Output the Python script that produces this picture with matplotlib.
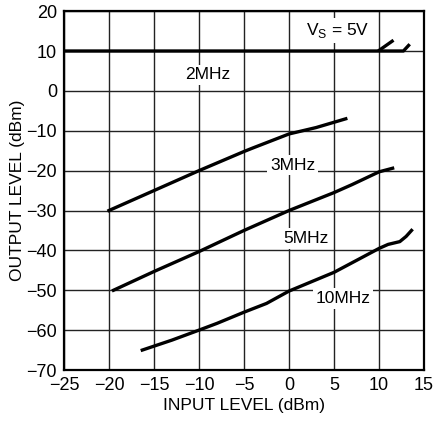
import matplotlib
matplotlib.use("Agg")
import matplotlib.pyplot as plt
from matplotlib import font_manager

# pick a narrow sans if available
names = {f.name for f in font_manager.fontManager.ttflist}
family = "Liberation Sans Narrow" if "Liberation Sans Narrow" in names else "Liberation Sans"
plt.rcParams["font.family"] = [family, "DejaVu Sans"]

# 2MHz curve (main + branch near limit)
x_2mhz = [-25, 0, 9.9, 12.7, 13.4]
y_2mhz = [10, 10, 10, 10, 11.7]
x_2mhz_b = [9.9, 11.6]
y_2mhz_b = [10, 12.7]

x_3mhz = [-20, -15, -10, -5, -4, 0, 3, 6.3]
y_3mhz = [-30, -25, -20, -15.2, -14.3, -10.8, -9.2, -7.0]

x_5mhz = [-19.5, -15, -10, -5, 0, 5, 7, 10, 11.5]
y_5mhz = [-50, -45.3, -40.3, -35, -30, -25.5, -23.5, -20.3, -19.4]

x_10mhz = [-16.3, -13, -10, -8, -5, -2.5, 0, 5, 10, 11, 12.3, 13, 13.6]
y_10mhz = [-65, -62.5, -60, -58.3, -55.5, -53.3, -50.2, -45.5, -39.5, -38.5, -37.8, -36.5, -35]

x_ticks = [-25, -20, -15, -10, -5, 0, 5, 10, 15]
y_ticks = [20, 10, 0, -10, -20, -30, -40, -50, -60, -70]

fig = plt.figure(figsize=(4.35, 4.28), dpi=100)
ax = fig.add_axes([0.147, 0.1355, 0.828, 0.8385])

lw = 2.4
ax.plot(x_2mhz, y_2mhz, color="black", lw=lw, solid_capstyle="butt", zorder=3)
ax.plot(x_2mhz_b, y_2mhz_b, color="black", lw=lw, solid_capstyle="butt", zorder=3)
ax.plot(x_3mhz, y_3mhz, color="black", lw=lw, zorder=3)
ax.plot(x_5mhz, y_5mhz, color="black", lw=lw, zorder=3)
ax.plot(x_10mhz, y_10mhz, color="black", lw=lw, zorder=3)

ax.set_xlim(-25, 15)
ax.set_ylim(-70, 20)
ax.set_xticks(x_ticks)
ax.set_yticks(y_ticks)
ax.grid(True, color="#222222", lw=1.0)
ax.tick_params(length=0, labelsize=13, pad=5)
for s in ax.spines.values():
    s.set_linewidth(1.6)

ax.set_xlabel("INPUT LEVEL (dBm)", fontsize=12.5, labelpad=3)
ax.set_ylabel("OUTPUT LEVEL (dBm)", fontsize=12.5, labelpad=1)

box = dict(facecolor="white", edgecolor="none", pad=2)
ax.text(-9.0, 4.0, "2MHz", fontsize=12.5, ha="center", va="center", bbox=box, zorder=4)
ax.text(0.4, -18.6, "3MHz", fontsize=12.5, ha="center", va="center", bbox=box, zorder=4)
ax.text(1.9, -37.0, "5MHz", fontsize=12.5, ha="center", va="center", bbox=box, zorder=4)
ax.text(6.0, -52.0, "10MHz", fontsize=12.5, ha="center", va="center", bbox=box, zorder=4)
ax.text(5.4, 15.2, "V$_\\mathregular{S}$ = 5V", fontsize=12.5, ha="center", va="center", bbox=box, zorder=4)

fig.savefig("out.png", dpi=100)
